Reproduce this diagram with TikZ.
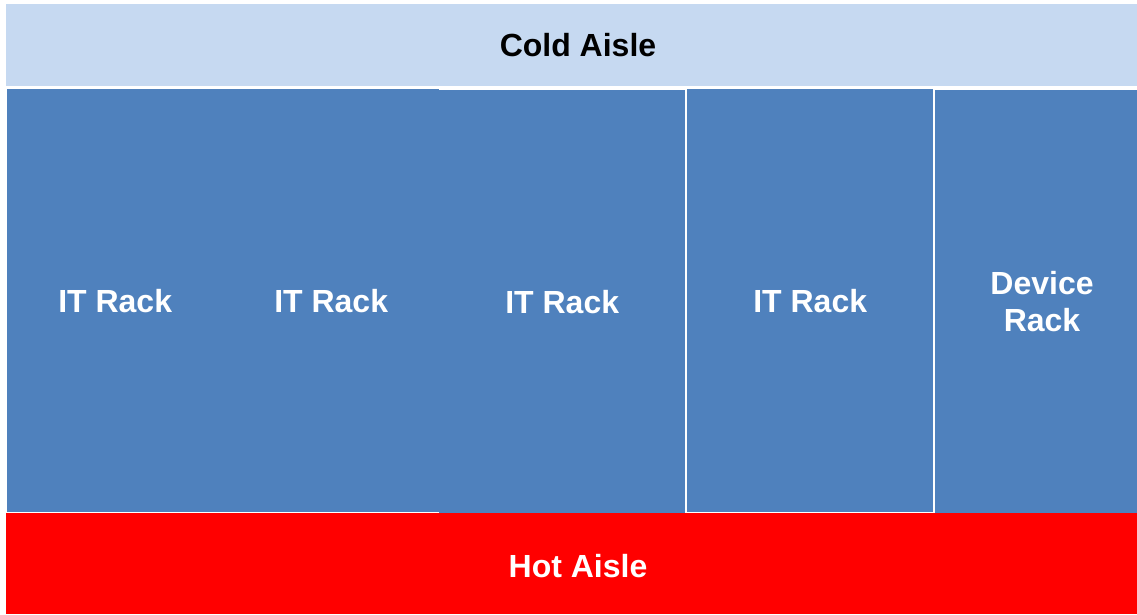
\documentclass[tikz,border=0pt]{standalone}
\usepackage{fontspec}
\setmainfont{Liberation Sans}
\definecolor{coldblue}{HTML}{C6D9F1}
\definecolor{rackblue}{HTML}{4F81BD}
\definecolor{hotred}{HTML}{FF0000}
\tikzset{
  aisle/.style={inner sep=0pt, anchor=north west},
  rack/.style={fill=rackblue, inner sep=0pt, anchor=north west, text=white, align=center,
    font=\fontsize{32}{37}\selectfont\bfseries},
  label/.style={inner sep=0pt, align=center, font=\fontsize{32}{37}\selectfont\bfseries}
}
\begin{document}
\begin{tikzpicture}[x=1pt,y=-1pt]
  \useasboundingbox (0,0) rectangle (1137,614);
  % aisles
  \node [aisle, fill=coldblue, minimum width=1131pt, minimum height=82pt] (cold) at (6,4) {};
  \node [aisle, fill=hotred, minimum width=1131pt, minimum height=101pt] (hot) at (6,513) {};
  \node [label] (coldtext) at (578,45) {Cold Aisle};
  \node [label, text=white] (hottext) at (578,566) {Hot Aisle};
  % racks
  \node [rack, minimum width=216pt, minimum height=423pt] (rackA) at (7,89) {IT Rack};
  \node [rack, minimum width=216pt, minimum height=423pt] (rackB) at (223,89) {IT Rack};
  \node [rack, minimum width=246pt, minimum height=423pt] (rackC) at (439,90) {IT Rack};
  \node [rack, minimum width=246pt, minimum height=423pt] (rackD) at (687,89) {IT Rack};
  \node [rack, minimum width=202pt, minimum height=423pt] (device) at (935,90) {};
  \node [label, text=white] (devicetext) at (1042,302) {Device\\Rack};
\end{tikzpicture}
\end{document}
